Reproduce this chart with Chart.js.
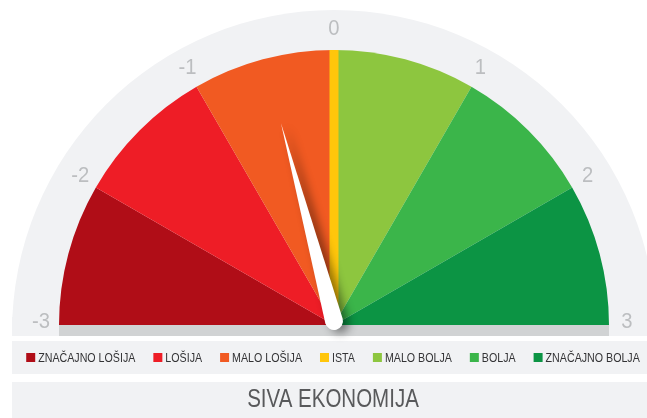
<!DOCTYPE html>
<html>
<head>
<meta charset="utf-8">
<script src="https://cdn.jsdelivr.net/npm/chart.js@4/dist/chart.umd.min.js"></script>
<style>
  html, body { margin: 0; padding: 0; background: #fff; }
</style>
</head>
<body>
<canvas id="gauge" width="647" height="418"></canvas>
<script>
// categories of the gauge, and the part of the -3..3 scale each one covers
const categories = ["ZNAČAJNO LOŠIJA", "LOŠIJA", "MALO LOŠIJA", "ISTA", "MALO BOLJA", "BOLJA", "ZNAČAJNO BOLJA"];
const rangeStart = [-3, -2, -1, 0, 0, 1, 2];
const rangeEnd = [-2, -1, 0, 0, 1, 2, 3];
const colors = ["#b00d17", "#ee1d26", "#f15a22", "#ffc60b", "#8dc63f", "#3bb54a", "#0c9444"];
const tickLabels = ["-3", "-2", "-1", "0", "1", "2", "3"];
const needleValue = -0.5;
const title = "SIVA EKONOMIJA";

const FONT = "'Liberation Sans', Arial, sans-serif";
const NARROW = 0.82; // squeeze text horizontally, the original uses a condensed face

// span of each category = size of its slice
const spans = [];
for (let i = 0; i < categories.length; i++) {
  spans.push(rangeEnd[i] - rangeStart[i]);
}

function geometry(chart) {
  const arcs = chart.getDatasetMeta(0).data;
  const first = arcs[0];
  const last = arcs[arcs.length - 1];
  const min = rangeStart[0];
  const max = rangeEnd[rangeEnd.length - 1];
  return {
    cx: first.x,
    cy: first.y,
    r: first.outerRadius,
    angle: (v) => first.startAngle + (v - min) / (max - min) * (last.endAngle - first.startAngle)
  };
}

function narrowText(ctx, text, x, y, squeeze) {
  ctx.save();
  ctx.translate(x, y);
  ctx.scale(squeeze || NARROW, 1);
  ctx.fillText(text, 0, 0);
  ctx.restore();
}

const gaugePlugin = {
  id: "gauge",
  beforeDatasetsDraw(chart) {
    const ctx = chart.ctx;
    const g = geometry(chart);
    const W = chart.width;
    ctx.save();
    // light background half disc
    ctx.fillStyle = "#f1f2f4";
    ctx.beginPath();
    ctx.arc(g.cx, g.cy + 7, g.r + 47, Math.PI, 2 * Math.PI);
    ctx.closePath();
    ctx.fill();
    ctx.fillRect(12, g.cy - 8, W - 12, 19);
    // darker band under the slices
    ctx.fillStyle = "#d1d3d4";
    ctx.fillRect(g.cx - g.r, g.cy, 2 * g.r, 11);

    // tick labels
    ctx.fillStyle = "#bcbec0";
    ctx.font = "22px " + FONT;
    ctx.textAlign = "center";
    ctx.textBaseline = "middle";
    tickLabels.forEach((t) => {
      const a = g.angle(Number(t));
      narrowText(ctx, t, g.cx + (g.r + 18) * Math.cos(a), g.cy + (g.r + 18) * Math.sin(a) - 3, 0.92);
    });

    // legend box
    ctx.fillStyle = "#f1f2f4";
    ctx.fillRect(12, 341, W - 12, 33);
    ctx.font = "13px " + FONT;
    ctx.textAlign = "left";
    const box = 9, gapText = 3, gapItem = 18;
    let total = 0;
    const widths = categories.map((c) => ctx.measureText(c).width * NARROW);
    widths.forEach((w) => { total += box + gapText + w; });
    total += gapItem * (categories.length - 1);
    let x = 333 - total / 2;
    categories.forEach((c, i) => {
      ctx.fillStyle = colors[i];
      ctx.fillRect(x, 353, box, box);
      ctx.fillStyle = "#333335";
      narrowText(ctx, c, x + box + gapText, 358);
      x += box + gapText + widths[i] + gapItem;
    });

    // title box
    ctx.fillStyle = "#f1f2f4";
    ctx.fillRect(12, 382, W - 12, 36);
    ctx.fillStyle = "#58595b";
    ctx.font = "25px " + FONT;
    ctx.textAlign = "center";
    narrowText(ctx, title, 333, 400);
    ctx.restore();
  },
  afterDatasetsDraw(chart) {
    const ctx = chart.ctx;
    const g = geometry(chart);
    ctx.save();
    // zero-width categories are drawn as a thin bar
    categories.forEach((c, i) => {
      if (spans[i] !== 0) return;
      const a = g.angle(rangeStart[i]);
      ctx.translate(g.cx, g.cy);
      ctx.rotate(a);
      ctx.fillStyle = colors[i];
      ctx.fillRect(0, -4.5, g.r, 9);
      ctx.setTransform(1, 0, 0, 1, 0, 0);
    });

    // needle
    const a = g.angle(needleValue);
    const px = g.cx, py = g.cy - 4;
    const len = 205, half = 9;
    ctx.translate(px, py);
    ctx.rotate(a);
    ctx.shadowColor = "rgba(0,0,0,0.45)";
    ctx.shadowBlur = 10;
    ctx.shadowOffsetX = 6;
    ctx.shadowOffsetY = 3;
    ctx.fillStyle = "#ffffff";
    ctx.beginPath();
    ctx.moveTo(len, 0);
    ctx.lineTo(0, half);
    ctx.arc(0, 0, half, Math.PI / 2, Math.PI * 1.5);
    ctx.closePath();
    ctx.fill();
    ctx.restore();
  }
};

new Chart(document.getElementById("gauge"), {
  type: "doughnut",
  data: {
    labels: categories,
    datasets: [{
      data: spans,
      backgroundColor: colors,
      borderWidth: 0
    }]
  },
  options: {
    responsive: false,
    animation: false,
    rotation: -90,
    circumference: 180,
    cutout: 0,
    layout: { padding: { left: 59, right: 38, top: 50, bottom: 93 } },
    plugins: {
      legend: { display: false },
      tooltip: { enabled: false }
    }
  },
  plugins: [gaugePlugin]
});
</script>
</body>
</html>
